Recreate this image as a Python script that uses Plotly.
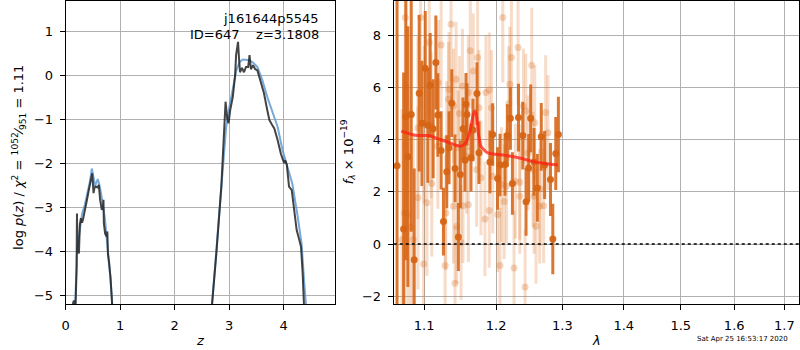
import plotly.graph_objects as go

# ---------------- left panel: log p(z) ----------------
z_blue_lo = [0.15, 0.175, 0.21, 0.25, 0.30, 0.35, 0.39, 0.44, 0.48, 0.51, 0.54, 0.57, 0.59, 0.62, 0.66, 0.72, 0.78, 0.82, 0.85, 0.87]
p_blue_lo = [-6.0, -5.0, -4.0, -3.6, -3.15, -2.95, -2.75, -2.45, -2.12, -2.3, -2.52, -2.42, -2.36, -2.5, -2.76, -3.25, -4.0, -4.6, -5.1, -6.0]
z_blue_hi = [2.66, 2.687, 2.79, 2.88, 2.946, 3.007, 3.07, 3.13, 3.19, 3.25, 3.34, 3.43, 3.52, 3.61, 3.70, 3.79, 3.89, 3.98, 4.07, 4.16, 4.25, 4.33, 4.38, 4.41, 4.43]
p_blue_hi = [-6.0, -5.2, -3.6, -2.08, -1.17, -0.71, -0.26, 0.1, 0.3, 0.36, 0.35, 0.3, 0.19, -0.11, -0.49, -0.79, -1.17, -1.7, -2.08, -2.46, -3.14, -3.82, -4.73, -5.2, -6.0]

z_dark_lo = [0.13, 0.15, 0.18, 0.20, 0.207, 0.215, 0.243, 0.26, 0.279, 0.30, 0.316, 0.347, 0.389, 0.426, 0.463, 0.487, 0.511, 0.53, 0.548, 0.584, 0.608, 0.633, 0.663, 0.685, 0.694, 0.70, 0.724, 0.742, 0.755, 0.765, 0.775, 0.797, 0.822, 0.852, 0.87]
p_dark_lo = [-5.2, -5.12, -5.3, -4.4, -3.14, -3.9, -4.05, -3.4, -3.25, -3.35, -3.29, -3.06, -2.84, -2.6, -2.38, -2.23, -2.68, -2.55, -2.53, -2.55, -2.49, -2.84, -3.06, -3.0, -2.83, -3.35, -3.6, -3.65, -3.67, -3.55, -4.05, -4.27, -4.58, -5.2, -6.0]
z_dark_hi = [2.66, 2.687, 2.766, 2.857, 2.935, 2.965, 2.99, 3.02, 3.068, 3.11, 3.128, 3.146, 3.164, 3.182, 3.2, 3.237, 3.273, 3.31, 3.35, 3.375, 3.4, 3.44, 3.48, 3.52, 3.58, 3.64, 3.70, 3.74, 3.79, 3.83, 3.89, 3.95, 4.01, 4.03, 4.06, 4.1, 4.15, 4.2, 4.24, 4.29, 4.32, 4.35, 4.38, 4.40]
p_dark_hi = [-6.0, -5.2, -4.05, -2.53, -0.6, -0.98, -1.09, -0.79, -0.49, 0.0, 0.46, 0.61, 0.76, 0.38, 0.07, 0.17, 0.07, 0.19, 0.19, 0.46, 0.14, 0.23, 0.14, 0.11, -0.18, -0.41, -0.79, -1.02, -1.13, -1.21, -1.47, -1.78, -2.0, -1.93, -2.04, -2.53, -2.61, -3.14, -3.52, -3.75, -3.9, -4.5, -5.2, -6.0]

# ---------------- right panel: spectrum ----------------
lam_dark = [1.0645, 1.0730, 1.0759, 1.0785, 1.0829, 1.0868, 1.0934, 1.0970, 1.1014, 1.1049, 1.1080, 1.1120, 1.1156, 1.1183,
            1.1228, 1.1259, 1.1304, 1.1336, 1.1373, 1.1418, 1.1464, 1.1492, 1.1528, 1.1556, 1.1570, 1.1584, 1.1640,
            1.1668, 1.1725, 1.1753, 1.1910, 1.1949, 1.2021, 1.2056, 1.2129, 1.2163, 1.2208, 1.2238, 1.2328, 1.2392,
            1.2441, 1.2481, 1.2511, 1.2561, 1.2612, 1.2672, 1.2723, 1.2814, 1.2850, 1.2896, 1.2937]
f_dark = [3.0, 0.58, 4.88, 3.35, 4.97, -0.60, 5.78, 4.63, 6.74, 4.55, 6.09, 4.42, 6.96, 4.95,
          3.59, 0.86, 2.77, 3.69, 5.40, 2.90, 0.27, 2.67, 4.42, 3.21, 5.36, 4.97, 3.31,
          4.37, 5.77, 3.50, 3.15, 4.20, 2.51, 3.03, 3.05, 4.16, 4.82, 2.32, 4.85, 4.16,
          1.62, 2.92, 4.82, 3.15, 2.15, 4.11, 3.03, 2.47, 0.19, 3.47, 4.20]
e_dark = [8.0, 6.0, 5.5, 5.0, 4.5, 3.5, 3.0, 2.4, 2.2, 2.2, 2.0, 1.9, 1.8, 1.6,
          1.5, 1.3, 1.4, 1.4, 1.3, 1.3, 1.3, 1.3, 1.2, 1.2, 1.2, 1.2, 1.3,
          1.2, 1.2, 1.2, 1.2, 1.2, 1.2, 1.2, 1.2, 1.2, 1.2, 1.2, 1.3, 1.3,
          1.3, 1.3, 1.3, 1.3, 1.3, 1.3, 1.3, 1.4, 1.35, 1.4, 1.45]

lam_light = [1.0709, 1.0752, 1.0743, 1.0786, 1.0825, 1.0856, 1.0952, 1.0917, 1.0917, 1.0992, 1.1000, 1.1036, 1.1067,
             1.1093, 1.1102, 1.1192, 1.1228, 1.1183, 1.1291, 1.1282, 1.1304, 1.1327, 1.1336, 1.1363, 1.1396, 1.1396,
             1.1418, 1.1432, 1.1441, 1.1464, 1.1478, 1.1501, 1.1520, 1.1528, 1.1579, 1.1603, 1.1603, 1.1631, 1.1673,
             1.1720, 1.1734, 1.1753, 1.1781, 1.1838, 1.1852, 1.1900, 1.1900, 1.1933, 1.1949, 1.2021, 1.2056, 1.2077,
             1.2096, 1.2116, 1.2150, 1.2184, 1.2199, 1.2223, 1.2262, 1.2282, 1.2322, 1.2347, 1.2347, 1.2402, 1.2427,
             1.2437, 1.2472, 1.2527, 1.2547, 1.2561, 1.2572, 1.2592, 1.2647, 1.2657, 1.2708, 1.2739, 1.2775]
f_light = [0.17, 8.69, 1.19, 1.13, 0.66, 0.17, 8.69, 4.46, 1.77, -0.77, 4.59, 1.58, 7.73,
           4.56, 2.32, 6.19, 7.63, 3.75, 1.19, -0.82, 4.04, 5.55, 5.93, 8.43, 1.45, 5.29,
           -1.50, 6.32, 0.68, 3.69, 5.01, 0.06, 6.06, 1.47, 3.37, 5.81, 1.51, 7.41, 6.64,
           2.86, 7.15, 5.23, 2.54, 0.96, 5.81, 5.91, 1.29, 5.23, 2.60, 1.13, -0.82, 2.28,
           8.69, 1.63, 2.22, 5.38, 6.13, 7.15, -0.92, 2.41, 7.54, 1.83, 2.37, 5.29, -1.65,
           5.10, 3.50, 6.86, 2.86, 1.83, 4.65, 0.68, 1.45, 2.12, 1.47, 5.04, 4.27]
e_light = [5.0, 5.0, 5.0, 5.0, 4.5, 4.0, 3.5, 3.5, 3.5, 3.0, 3.0, 2.8, 2.8,
           2.8, 2.8, 2.4, 2.4, 2.4, 2.2, 2.2, 2.2, 2.2, 2.2, 2.2, 2.2, 2.2,
           2.2, 2.2, 2.2, 2.2, 2.2, 2.2, 2.2, 2.2, 2.2, 2.2, 2.2, 2.2, 2.2,
           2.2, 2.2, 2.2, 2.2, 2.2, 2.2, 2.2, 2.2, 2.2, 2.2, 2.2, 2.2, 2.2,
           2.5, 2.2, 2.2, 2.2, 2.2, 2.2, 2.2, 2.2, 2.2, 2.2, 2.2, 2.2, 2.2,
           2.2, 2.2, 2.2, 2.2, 2.2, 2.2, 2.2, 2.2, 2.2, 2.2, 2.2, 2.2]

lam_model = [1.0700, 1.0838, 1.0926, 1.1058, 1.1192, 1.1327, 1.1441, 1.1501, 1.1565, 1.1626, 1.1673, 1.1698,
             1.1720, 1.1744, 1.1781, 1.1862, 1.1961, 1.2129, 1.2328, 1.2522, 1.2723, 1.2927]
f_model = [4.33, 4.20, 4.16, 4.16, 4.03, 3.90, 3.78, 3.75, 3.88, 4.33, 4.97, 5.10,
           4.90, 4.26, 3.75, 3.52, 3.45, 3.40, 3.31, 3.18, 3.09, 3.03]

x_ticks_right = [1.1, 1.2, 1.3, 1.4, 1.5, 1.6, 1.7]

FONT = "DejaVu Sans"
W, H = 800, 350
L1, R1 = 62 / W, 333 / W
L2, R2 = 391.7 / W, 799 / W
YB, YT = (H - 304) / H, (H - 1) / H

fig = go.Figure()
blue = "rgba(95,155,210,0.85)"
dark = "rgba(35,35,35,0.85)"
for zz, pp, col in [(z_blue_lo, p_blue_lo, blue), (z_blue_hi, p_blue_hi, blue),
                    (z_dark_lo, p_dark_lo, dark), (z_dark_hi, p_dark_hi, dark)]:
    fig.add_trace(go.Scatter(x=zz, y=pp, mode="lines", line=dict(color=col, width=2),
                             xaxis="x", yaxis="y", showlegend=False))

fig.add_trace(go.Scatter(x=lam_light, y=f_light, mode="markers",
                         marker=dict(color="rgba(220,115,40,0.3)", size=7, line=dict(width=0)),
                         error_y=dict(type="data", array=e_light, color="rgba(220,115,40,0.25)", thickness=3, width=0),
                         xaxis="x2", yaxis="y2", showlegend=False))
fig.add_trace(go.Scatter(x=lam_dark, y=f_dark, mode="markers",
                         marker=dict(color="rgba(214,100,20,0.95)", size=7, line=dict(width=0)),
                         error_y=dict(type="data", array=e_dark, color="rgba(214,100,20,0.88)", thickness=3, width=0),
                         xaxis="x2", yaxis="y2", showlegend=False))
fig.add_trace(go.Scatter(x=lam_model, y=f_model, mode="lines",
                         line=dict(color="rgba(255,30,20,0.75)", width=3, shape="spline", smoothing=0.6),
                         xaxis="x2", yaxis="y2", showlegend=False))

fig.add_shape(type="line", xref="x2 domain", yref="y2", x0=0, x1=1, y0=0, y1=0,
              line=dict(color="black", width=1.5, dash="dot"))

axis_common = dict(showline=True, mirror=True, linecolor="black", linewidth=1,
                   showgrid=True, gridcolor="#b0b0b0", gridwidth=1, zeroline=False,
                   ticks="outside", ticklen=5, tickcolor="black", tickwidth=1,
                   ticklabelstandoff=4,
                   tickfont=dict(family=FONT, size=13, color="black"))

fig.update_layout(
    width=W, height=H, margin=dict(l=0, r=0, t=0, b=0),
    paper_bgcolor="white", plot_bgcolor="white",
    font=dict(family=FONT, size=13, color="black"),
    xaxis=dict(domain=[L1, R1], range=[0, 4.95], tickvals=[0, 1, 2, 3, 4], anchor="y", **axis_common),
    yaxis=dict(domain=[YB, YT], range=[-5.2, 1.69], tickvals=[-5, -4, -3, -2, -1, 0, 1], anchor="x", **axis_common),
    xaxis2=dict(domain=[L2, R2], type="log", range=[0.02541, 0.23813], tickvals=x_ticks_right,
                ticktext=[str(v) for v in x_ticks_right], anchor="y2", **axis_common),
    yaxis2=dict(domain=[YB, YT], range=[-2.3, 9.32], tickvals=[-2, 0, 2, 4, 6, 8], anchor="x2", **axis_common),
)

ann = [
    dict(text="j161644p5545", x=319 / W, y=(H - 19) / H, xanchor="right", yanchor="middle"),
    dict(text="ID=647\u00a0\u00a0\u00a0\u00a0z=3.1808", x=319 / W, y=(H - 35) / H, xanchor="right", yanchor="middle"),
    dict(text="log\u00a0<i>p</i>(<i>z</i>) / <i>χ</i><sup>2</sup> = <sup>1052</sup>⁄<sub>951</sub> = 1.11",
         x=15 / W, y=(H - 157) / H, xanchor="center", yanchor="middle", textangle=-90),
    dict(text="<i>f</i><sub><i>λ</i></sub> × 10<sup>−19</sup>", x=346 / W, y=(H - 152) / H,
         xanchor="center", yanchor="middle", textangle=-90),
    dict(text="<i>z</i>", x=197 / W, y=(H - 340) / H, xanchor="center", yanchor="middle"),
    dict(text="<i>λ</i>", x=595 / W, y=(H - 340) / H, xanchor="center", yanchor="middle"),
    dict(text="Sat Apr 25 16:53:17 2020", x=742 / W, y=(H - 339) / H, xanchor="center", yanchor="middle",
         font=dict(family=FONT, size=7, color="black")),
]
for a in ann:
    a.setdefault("font", dict(family=FONT, size=13, color="black"))
    fig.add_annotation(xref="paper", yref="paper", showarrow=False, **a)

fig.write_html("out.html")
